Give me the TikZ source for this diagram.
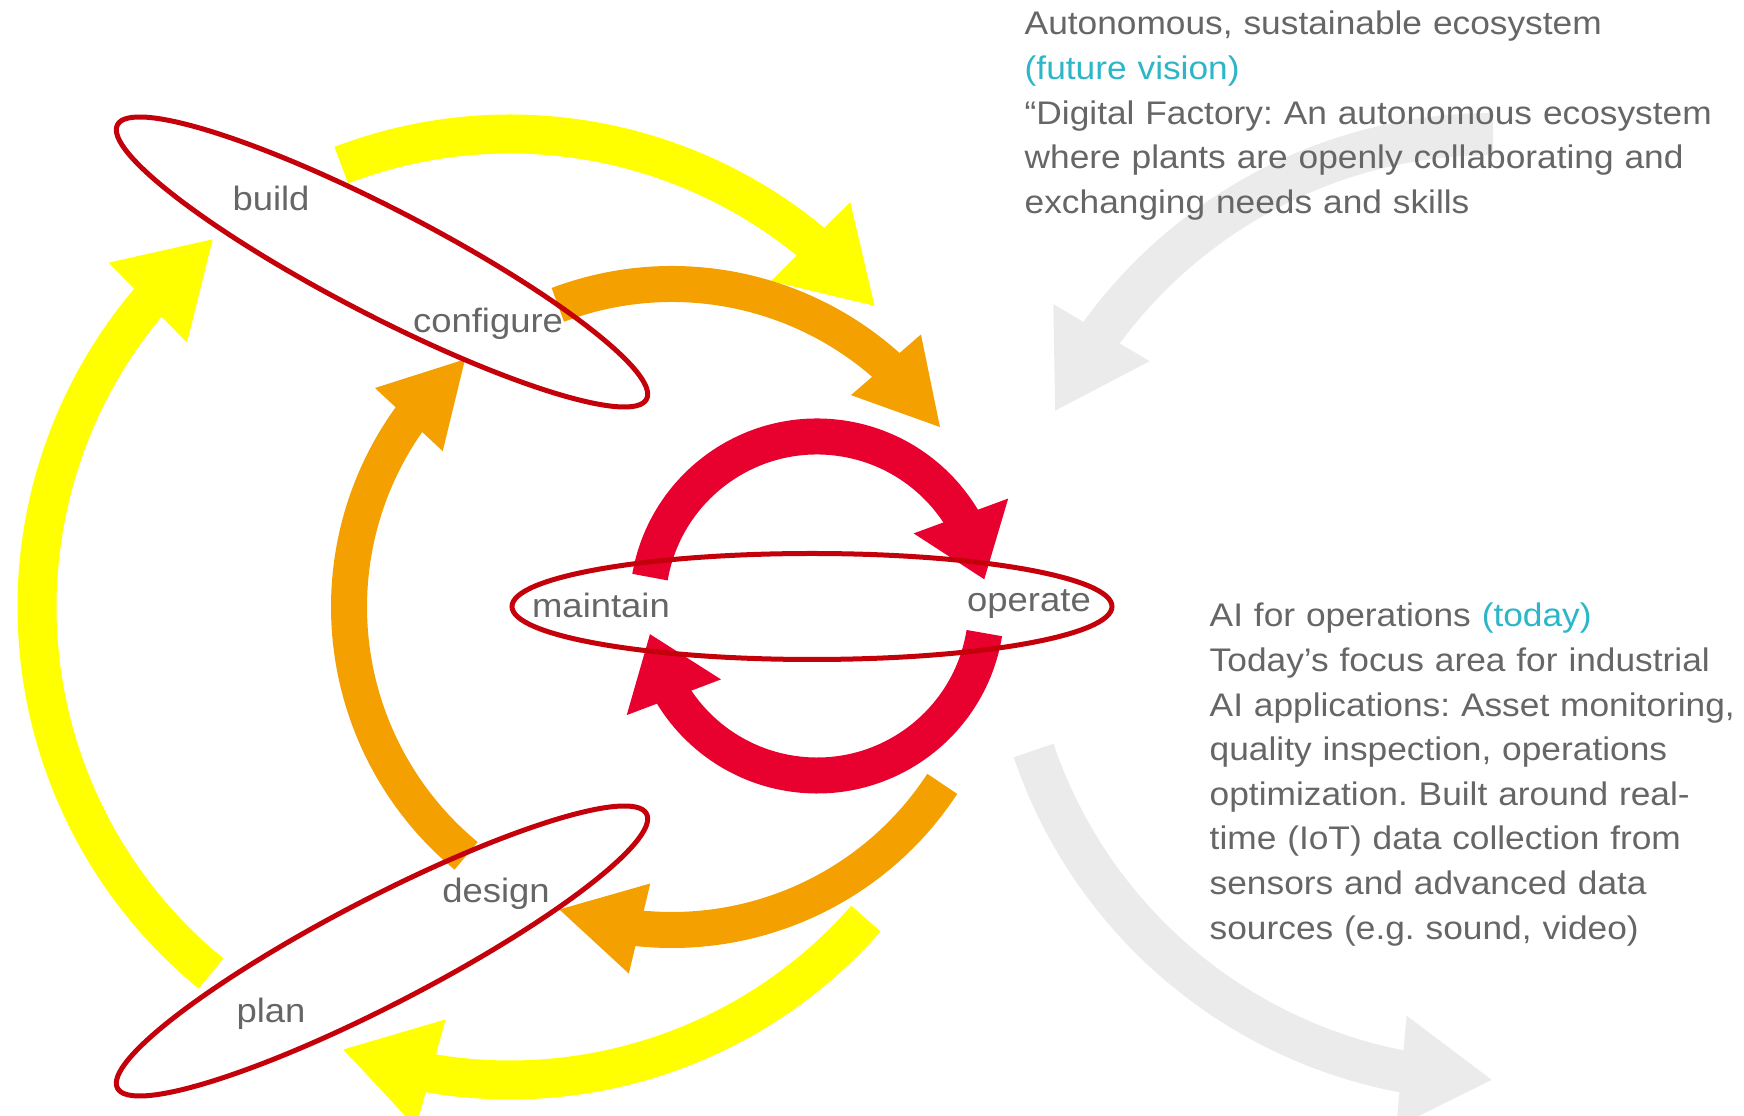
\documentclass[tikz,border=0pt]{standalone}
\usepackage{fontspec}
\setmainfont{Liberation Sans}[FakeStretch=1.08]
\usetikzlibrary{arrows.meta, bending}
\frenchspacing

\definecolor{ringred}{HTML}{E8002F}
\definecolor{rimred}{HTML}{C4000A}
\definecolor{orangeband}{HTML}{F3A000}
\definecolor{yellowband}{HTML}{FFFF00}
\definecolor{greyband}{HTML}{EBEBEB}
\definecolor{txtgrey}{HTML}{666666}
\definecolor{visioncyan}{HTML}{2DB6C8}

\tikzset{
  yellowflow/.style={yellowband, line width=3.9mm, -{Triangle[length=9.2mm, width=10.5mm, flex]}},
  orangeflow/.style={orangeband, line width=3.6mm, -{Triangle[length=8.4mm, width=8.6mm, flex]}},
  ringflow/.style={ringred, line width=3.6mm, -{Triangle[length=6.8mm, width=9.6mm, flex]}},
  greyflow/.style={greyband, line width=4.2mm, -{Triangle[length=9.2mm, width=10.5mm, flex]}},
  phaserim/.style={rimred, line width=0.5mm},
  lbl/.style={text=txtgrey, inner sep=0pt, font=\fontsize{9.6pt}{11pt}\selectfont},
  txt/.style={text=txtgrey, inner sep=0pt, align=left, font=\fontsize{9.3pt}{4.46mm}\selectfont}
}

\begin{document}
\begin{tikzpicture}[x=0.1mm, y=0.1mm]
        \clip (0,0) rectangle (1744,1116);

        \coordinate (Y) at (510,509);
        \coordinate (O) at (672,509);
        \coordinate (R) at (817,510);
        \coordinate (G1) at (1493,497);
        \coordinate (G2) at (1493,521);

        \draw[greyflow] ([shift={(90:485)}]G1) arc[start angle=90, end angle=154.7, radius=485];
        \draw[greyflow] ([shift={(198.7:485)}]G2) arc[start angle=198.7, end angle=270, radius=485];

        \draw[yellowflow] ([shift={(230.8:473)}]Y) arc[start angle=230.8, end angle=128.8, radius=473];
        \draw[yellowflow] ([shift={(110.9:473)}]Y) arc[start angle=110.9, end angle=39.4, radius=473];
        \draw[yellowflow] ([shift={(-41.2:473)}]Y) arc[start angle=-41.2, end angle=-110.8, radius=473];

        \draw[orangeflow] ([shift={(230.4:323)}]O) arc[start angle=230.4, end angle=129.6, radius=323];
        \draw[orangeflow] ([shift={(110.7:323)}]O) arc[start angle=110.7, end angle=33.6, radius=323];
        \draw[orangeflow] ([shift={(-33.2:323)}]O) arc[start angle=-33.2, end angle=-110.7, radius=323];

        \draw[ringflow] ([shift={(170.2:169.5)}]R) arc[start angle=170.2, end angle=8.9, radius=169.5];
        \draw[ringflow] ([shift={(-9.2:169.5)}]R) arc[start angle=-9.2, end angle=-170.6, radius=169.5];

        \draw[phaserim, rotate around={-27.4:(382,854)}] (382,854) ellipse[x radius=298, y radius=53];
        \draw[phaserim] (812,509.5) ellipse[x radius=300, y radius=53];
        \draw[phaserim, rotate around={27.4:(382,165)}] (382,165) ellipse[x radius=298, y radius=53];

        \node[lbl, anchor=base] (build) at (271,905) {build};
        \node[lbl, anchor=base] (configure) at (488,783) {configure};
        \node[lbl, anchor=base] (maintain) at (601,498) {maintain};
        \node[lbl, anchor=base] (operate) at (1029,504) {operate};
        \node[lbl, anchor=base] (design) at (496,213) {design};
        \node[lbl, anchor=base] (plan) at (271,93) {plan};

        \node[txt, anchor=base west, text width=75mm] (vision) at (1024,1081)
            {Autonomous, sustainable ecosystem\\
             \textcolor{visioncyan}{(future vision)}\\
             “Digital Factory: An autonomous ecosystem\\
             where plants are openly collaborating and\\
             exchanging needs and skills};
        \node[txt, anchor=base west, text width=60mm] (today) at (1209,489)
            {AI for operations \textcolor{visioncyan}{(today)}\\
             Today’s focus area for industrial\\
             AI applications: Asset monitoring,\\
             quality inspection, operations\\
             optimization. Built around real-\\
             time (IoT) data collection from\\
             sensors and advanced data\\
             sources (e.g. sound, video)};
    \end{tikzpicture}
\end{document}
